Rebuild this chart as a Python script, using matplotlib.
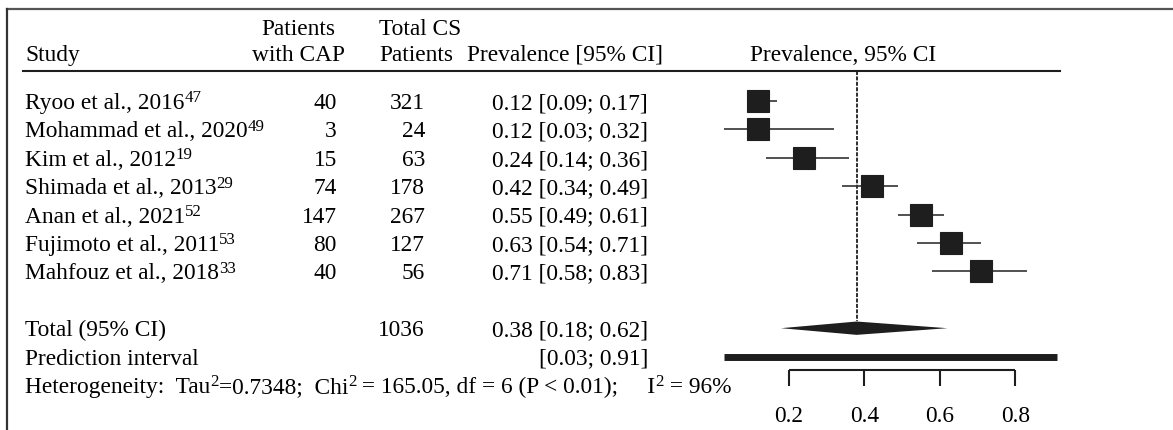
import numpy as np
import matplotlib
matplotlib.use("Agg")
import matplotlib.pyplot as plt

plt.rcParams['font.family'] = ['Liberation Serif', 'DejaVu Serif']

# study data
studies = ["Ryoo et al., 2016", "Mohammad et al., 2020", "Kim et al., 2012",
           "Shimada et al., 2013", "Anan et al., 2021", "Fujimoto et al., 2011",
           "Mahfouz et al., 2018"]
refs = ["47", "49", "19", "29", "52", "53", "33"]
events = [40, 3, 15, 74, 147, 80, 40]
totals = [321, 24, 63, 178, 267, 127, 56]
prev = [0.12, 0.12, 0.24, 0.42, 0.55, 0.63, 0.71]
ci_lo = [0.09, 0.03, 0.14, 0.34, 0.49, 0.54, 0.58]
ci_hi = [0.17, 0.32, 0.36, 0.49, 0.61, 0.71, 0.83]

# pooled results
total_n = 1036
pooled = 0.38
pooled_lo, pooled_hi = 0.18, 0.62
pred_lo, pred_hi = 0.03, 0.91
# (text, superscript?) pieces
heterogeneity = [("Heterogeneity:  Tau", False), ("2", True), ("=0.7348;  Chi", False),
                 ("2", True), (" = 165.05, df = 6 (P < 0.01);     I", False), ("2", True),
                 (" = 96%", False)]
ticks = [0.2, 0.4, 0.6, 0.8]

W, H = 1173, 430
FS = 16.8
SUP = 12.2
ink = '#1e1e1e'

fig = plt.figure(figsize=(W / 100, H / 100), dpi=100)
ax = fig.add_axes([0, 0, 1, 1])
# x in prevalence units, y in rows
ax.set_xlim(-713 / 378, (W - 713) / 378)
ax.set_ylim(11.585, -3.556)
ax.axis('off')
tr = ax.get_yaxis_transform()  # x: figure fraction, y: rows
renderer = fig.canvas.get_renderer()


def px(x):
    return x / W


def rich(x, y, pieces):
    # write text pieces left to right, superscripts smaller and raised
    for s, sup in pieces:
        if sup:
            t = ax.text(px(x), y - 0.23, s, transform=tr, fontsize=SUP, va='baseline', ha='left')
        else:
            t = ax.text(px(x), y, s, transform=tr, fontsize=FS, va='baseline', ha='left')
        x = t.get_window_extent(renderer).x1


n = len(studies)
rows = np.arange(n)
base = 0.28  # baseline offset below row centre

# frame: top and left lines
ax.plot([px(7), 1], [-3.24, -3.24], transform=tr, color='#555555', lw=1.6, clip_on=False)
ax.plot([px(7), px(7)], [-3.24, 11.6], transform=tr, color='#333333', lw=1.6, clip_on=False)

# headers
ax.text(px(25), -1.69 + base, "Study", transform=tr, fontsize=FS, va='baseline', ha='left')
ax.text(px(298), -2.61 + base, "Patients", transform=tr, fontsize=FS, va='baseline', ha='center')
ax.text(px(298), -1.69 + base, "with CAP", transform=tr, fontsize=FS, va='baseline', ha='center')
ax.text(px(379), -2.61 + base, "Total CS", transform=tr, fontsize=FS, va='baseline', ha='left')
ax.text(px(379), -1.69 + base, "Patients", transform=tr, fontsize=FS, va='baseline', ha='left')
ax.text(px(467), -1.69 + base, "Prevalence [95% CI]", transform=tr, fontsize=FS, va='baseline', ha='left')
ax.text(px(750), -1.69 + base, "Prevalence, 95% CI", transform=tr, fontsize=FS, va='baseline', ha='left')
ax.plot([px(23), px(1060)], [-1.06, -1.06], transform=tr, color=ink, lw=1.5)

# study rows
for i in range(n):
    y = rows[i] + base
    rich(25, y, [(studies[i], False), (refs[i], True)])
    ax.text(px(337), y, str(events[i]), transform=tr, fontsize=FS, va='baseline', ha='right')
    ax.text(px(425), y, str(totals[i]), transform=tr, fontsize=FS, va='baseline', ha='right')
    ax.text(px(648), y, f"{prev[i]:.2f} [{ci_lo[i]:.2f}; {ci_hi[i]:.2f}]", transform=tr,
            fontsize=FS, va='baseline', ha='right')

# reference line at pooled estimate
ax.plot([pooled, pooled], [-1.06, n + 1 - 0.24], color=ink, lw=1.3, ls=(0, (2.2, 0.8)))

# CI whiskers and squares
ax.hlines(rows, ci_lo, ci_hi, color='#333333', lw=1.2)
ax.plot(prev, rows, ls='none', marker='s', ms=16, mfc=ink, mec=ink, mew=0.8)

# pooled row
yt = n + 1
ax.text(px(25), yt + base, "Total (95% CI)", transform=tr, fontsize=FS, va='baseline', ha='left')
ax.text(px(425), yt + base, str(total_n), transform=tr, fontsize=FS, va='baseline', ha='right')
ax.text(px(648), yt + base, f"{pooled:.2f} [{pooled_lo:.2f}; {pooled_hi:.2f}]", transform=tr,
        fontsize=FS, va='baseline', ha='right')
dh = 0.235
ax.fill([pooled_lo, pooled, pooled_hi, pooled], [yt, yt - dh, yt, yt + dh], color=ink, lw=0)

# prediction interval
yp = n + 2
ax.text(px(25), yp + base, "Prediction interval", transform=tr, fontsize=FS, va='baseline', ha='left')
ax.text(px(648), yp + base, f"[{pred_lo:.2f}; {pred_hi:.2f}]", transform=tr,
        fontsize=FS, va='baseline', ha='right')
ax.plot([pred_lo, pred_hi], [yp, yp], color=ink, lw=5.0, solid_capstyle='butt')

# heterogeneity
yh = n + 3
rich(25, yh + base, heterogeneity)

# x axis
ya = 9.47
ax.plot([ticks[0], ticks[-1]], [ya, ya], color=ink, lw=1.5, solid_capstyle='butt')
for t in ticks:
    ax.plot([t, t], [ya, 10.04], color=ink, lw=1.5, solid_capstyle='butt')
    ax.text(t, 11.02 + base, f"{t:.1f}", fontsize=FS, va='baseline', ha='center')

fig.savefig("out.png", dpi=100, facecolor='white')
